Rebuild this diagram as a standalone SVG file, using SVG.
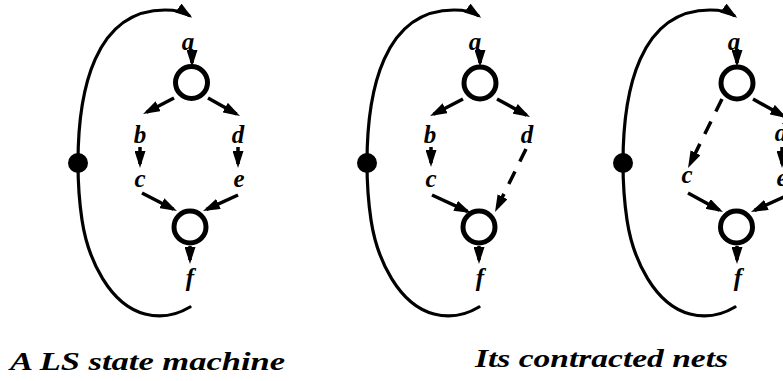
<svg xmlns="http://www.w3.org/2000/svg" width="783" height="381" viewBox="0 0 783 381">
<style>
.arc{fill:none;stroke:#000;stroke-width:3.2;stroke-linecap:round;marker-end:url(#ah)}
.edge{fill:none;stroke:#000;stroke-width:3.5;marker-end:url(#ah)}
.dash{stroke-dasharray:14 11}
.ring{fill:#fff;stroke:#000;stroke-width:5}
.dot{fill:#000}
.lbl{font-family:"Liberation Serif",serif;font-style:italic;font-weight:bold;font-size:25px;text-anchor:middle;fill:#000}
.cap{font-family:"Liberation Serif",serif;font-style:italic;font-weight:bold;font-size:26px;fill:#000}
</style>
<defs>
<marker id="ah" markerUnits="userSpaceOnUse" markerWidth="18" markerHeight="11" refX="13" refY="5.5" orient="auto"><path d="M0,0 L17,5.5 L0,11 z" fill="#000"/></marker>
<path id="loop" d="M190,307 C175,316 160,318 145,314 C110,305 88,260 82,220 C79,200 78,180 78,163 C78,90 95,10 165,10 C177,10 184,12 189,15.5"/>
</defs>
<rect width="783" height="381" fill="#fff"/>
<g id="connectors">
<use href="#loop" class="arc"/>
<use href="#loop" class="arc" transform="translate(289,0)"/>
<use href="#loop" class="arc" transform="translate(545,0)"/>
<path class="edge" d="M192,51 L192,63"/>
<path class="edge" d="M174,98 L146.6,112.2"/>
<path class="edge" d="M208,98 L236.5,114"/>
<path class="edge" d="M140,147 L140,164"/>
<path class="edge" d="M238,147 L238,164"/>
<path class="edge" d="M142,193 L173.4,209.2"/>
<path class="edge" d="M238,195 L206.6,209.3"/>
<path class="edge" d="M190,246 L190,260"/>
<path class="edge" d="M480,51 L480,63"/>
<path class="edge" d="M463,99 L433.6,114.2"/>
<path class="edge" d="M497,99 L526.5,115.1"/>
<path class="edge" d="M431,147 L431,163"/>
<path class="edge dash" d="M526,149 L496.8,208.4"/>
<path class="edge" d="M432,195 L467.4,211.3"/>
<path class="edge" d="M479,246 L479,260"/>
<path class="edge" d="M737,51 L737,63"/>
<path class="edge dash" d="M722,99 L689.8,164.4"/>
<path class="edge" d="M753,99 L783.5,116"/>
<path class="edge" d="M782,147 L782,164"/>
<path class="edge" d="M688,193 L719.5,210.2"/>
<path class="edge" d="M786,196 L754.6,210.3"/>
<path class="edge" d="M737,246 L737,260"/>
</g>
<g id="n1-top"><circle class="ring" cx="191.5" cy="82.5" r="16"/></g>
<g id="n1-bot"><circle class="ring" cx="190" cy="227" r="16"/></g>
<g id="n1-place"><circle class="dot" cx="78" cy="163" r="10"/></g>
<g id="n2-top"><circle class="ring" cx="480" cy="83" r="16"/></g>
<g id="n2-bot"><circle class="ring" cx="479" cy="227" r="16"/></g>
<g id="n2-place"><circle class="dot" cx="367" cy="163" r="10"/></g>
<g id="n3-top"><circle class="ring" cx="737" cy="83" r="16"/></g>
<g id="n3-bot"><circle class="ring" cx="736.5" cy="227" r="16"/></g>
<g id="n3-place"><circle class="dot" cx="623" cy="163" r="10"/></g>
<g id="labels">
<text class="lbl" x="188" y="50">a</text>
<text class="lbl" x="140" y="143">b</text>
<text class="lbl" x="140" y="187">c</text>
<text class="lbl" x="238" y="143">d</text>
<text class="lbl" x="239" y="187">e</text>
<text class="lbl" x="190" y="286">f</text>
<text class="lbl" x="475" y="50">a</text>
<text class="lbl" x="430" y="143">b</text>
<text class="lbl" x="431" y="187">c</text>
<text class="lbl" x="527" y="143">d</text>
<text class="lbl" x="480" y="286">f</text>
<text class="lbl" x="734" y="50">a</text>
<text class="lbl" x="687" y="183">c</text>
<text class="lbl" x="781" y="141">d</text>
<text class="lbl" x="782" y="186">e</text>
<text class="lbl" x="738" y="286">f</text>
<text class="cap" x="10" y="370" textLength="275" lengthAdjust="spacingAndGlyphs">A LS state machine</text>
<text class="cap" x="475" y="367" textLength="253" lengthAdjust="spacingAndGlyphs">Its contracted nets</text>
</g>
</svg>
